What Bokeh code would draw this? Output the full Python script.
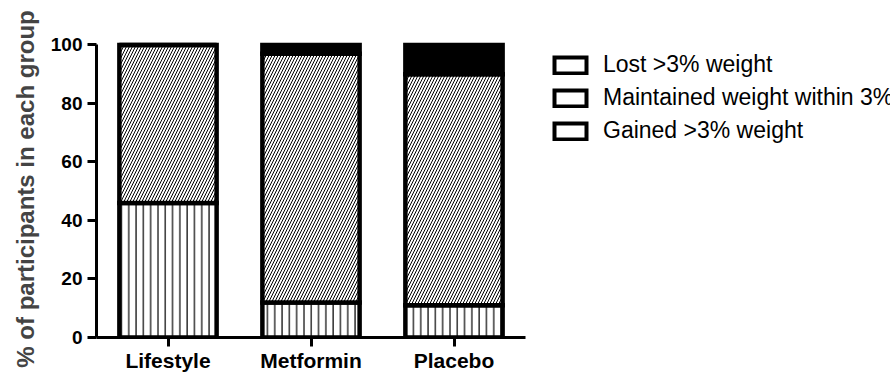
import numpy as np
from bokeh.plotting import figure
from bokeh.models import ColumnDataSource, Legend, LegendItem, FixedTicker
from bokeh.embed import file_html
from bokeh.resources import INLINE

# Weight change outcome by treatment group (% of participants)
groups = ["Lifestyle", "Metformin", "Placebo"]
gained = [46, 12, 11]        # gained >3% weight
maintained = [54, 85, 79]    # maintained weight within 3%
lost = [0, 3, 10]            # lost >3% weight
y_ticks = [0, 20, 40, 60, 80, 100]

g = np.array(gained, dtype=float)
m = np.array(maintained, dtype=float)
l = np.array(lost, dtype=float)
xs = np.arange(len(groups)) + 0.5   # one unit slot per group

src = ColumnDataSource(dict(
    x=xs,
    g0=np.zeros(3), g1=g,
    m0=g, m1=g + m,
    l0=g + m, l1=g + m + l,
))

FONT = "Liberation Sans"

# frame spans the full width so the legend on the right is not clipped;
# the x axis line itself stops after the last group
p = figure(
    width=890, height=374,
    x_range=(0, 794 / 143.0),
    y_range=(0, 101.5),
    output_backend="svg", toolbar_location=None,
    min_border_left=96, min_border_right=0,
    min_border_top=40, min_border_bottom=37,
)
p.outline_line_color = None
p.grid.grid_line_color = None
p.background_fill_color = "white"
p.border_fill_color = "white"

BW = 0.68
LW = 4.5
common = dict(x="x", width=BW, source=src, line_color="black",
              line_width=LW, line_join="miter")

p.vbar(bottom="g0", top="g1", fill_color="white",
       hatch_pattern="vertical_line", hatch_color="black",
       hatch_scale=7.3, hatch_weight=1.2, **common)
p.vbar(bottom="m0", top="m1", fill_color="white",
       hatch_pattern="right_diagonal_line", hatch_color="black",
       hatch_scale=6, hatch_weight=1.0, **common)
p.vbar(bottom="l0", top="l1", fill_color="black", **common)

# Legend swatches: plain outlined boxes (hidden renderers, drawn only in the legend)
labels = ["Lost >3% weight", "Maintained weight within 3%", "Gained >3% weight"]
items = []
for lab in labels:
    r = p.vbar(x="x", bottom="g0", top="g1", width=BW, source=src,
               fill_color="white", line_color="black", line_width=4,
               line_join="miter", visible=False)
    items.append(LegendItem(label=lab, renderers=[r]))

legend = Legend(
    items=items, location=(454, 190),
    glyph_width=40, glyph_height=20, label_height=33, spacing=0,
    label_standoff=13, padding=0, margin=0, border_line_color=None,
    background_fill_alpha=0, inactive_fill_alpha=0,
    label_text_font=FONT, label_text_font_size="23px",
    label_text_color="black", label_text_baseline="middle",
)
p.add_layout(legend, "center")

# Axes
p.xaxis.ticker = FixedTicker(ticks=list(xs))
p.xaxis.major_label_overrides = {float(x): name for x, name in zip(xs, groups)}
p.xaxis.bounds = (0, len(groups))
p.yaxis.ticker = y_ticks
p.yaxis.bounds = (0, 100)
p.yaxis.axis_label = "% of participants in each group"
p.yaxis.axis_label_text_font = FONT
p.yaxis.axis_label_text_font_style = "bold"
p.yaxis.axis_label_text_font_size = "24px"
p.yaxis.axis_label_standoff = 9
p.yaxis.major_label_text_font_size = "19px"
p.yaxis.major_label_standoff = 5

p.xaxis.major_label_text_font_size = "21px"
p.xaxis.major_label_standoff = 2

for ax in (p.xaxis, p.yaxis):
    ax.axis_line_width = 3
    ax.axis_line_color = "black"
    ax.major_tick_line_width = 3
    ax.major_tick_line_color = "black"
    ax.major_tick_out = 9
    ax.major_tick_in = 0
    ax.minor_tick_line_color = None
    ax.major_label_text_font = FONT
    ax.major_label_text_font_style = "bold"
    ax.major_label_text_color = "black"

open("out.html", "w").write(file_html(p, INLINE))
